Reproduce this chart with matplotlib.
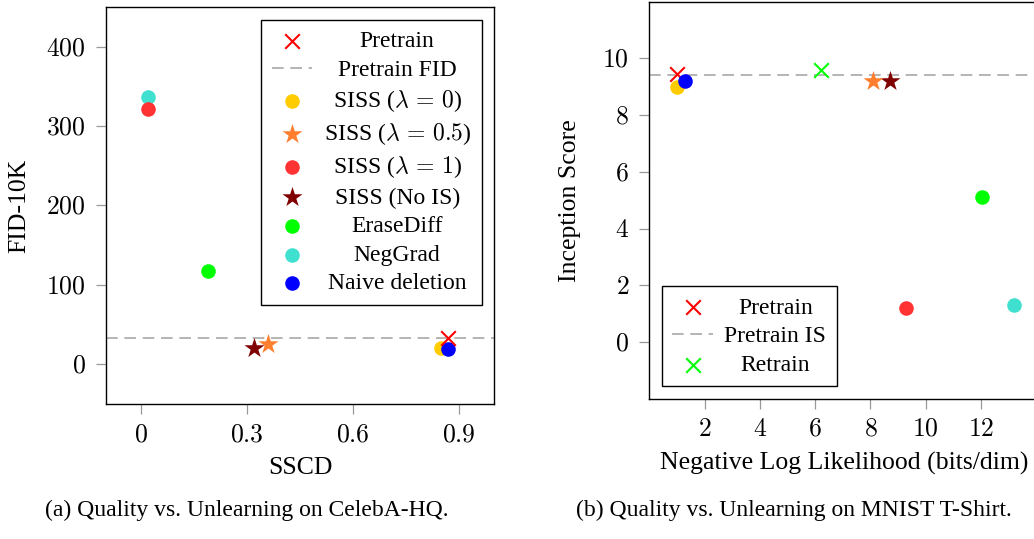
import matplotlib
matplotlib.use("Agg")
import matplotlib.pyplot as plt
from matplotlib.ticker import FuncFormatter

plt.rcParams["font.family"] = ["Liberation Serif", "DejaVu Serif"]
plt.rcParams["mathtext.fontset"] = "cm"

# (a) CelebA-HQ: SSCD vs FID-10K
CELEBA_PRETRAIN = (0.87, 32.5)
CELEBA_PRETRAIN_FID = 32.5
CELEBA_METHODS = ["SISS ($\\lambda\\,=\\,0$)", "SISS ($\\lambda\\,=\\,0.5$)",
                  "SISS ($\\lambda\\,=\\,1$)", "SISS (No IS)", "EraseDiff", "NegGrad",
                  "Naive deletion"]
CELEBA_X = [0.85, 0.36, 0.02, 0.32, 0.19, 0.02, 0.87]
CELEBA_Y = [20, 25, 322, 20, 118, 337, 19]
CELEBA_XTICKS = [0, 0.3, 0.6, 0.9]
CELEBA_YTICKS = [0, 100, 200, 300, 400]

# (b) MNIST T-Shirt: NLL vs Inception Score
MNIST_PRETRAIN = (1.0, 9.45)
MNIST_PRETRAIN_IS = 9.4
MNIST_RETRAIN = (6.2, 9.6)
MNIST_X = [1.0, 8.1, 9.3, 8.7, 12.05, 13.2, 1.3]
MNIST_Y = [9.0, 9.2, 1.2, 9.2, 5.1, 1.3, 9.2]
MNIST_XTICKS = [2, 4, 6, 8, 10, 12]
MNIST_YTICKS = [0, 2, 4, 6, 8, 10]

COLORS = ["#FFCC00", "#FF7F2F", "#FF3333", "#800000", "#00FF00", "#40E0D0", "#0000FF"]
MARKERS = ["o", "*", "o", "*", "o", "o", "o"]
ZORD = [3, 5, 4, 4, 3, 3, 4]

FS = 17        # legend / caption
FS_TICK = 18.5
FS_LABEL = 18.5

math_fmt = FuncFormatter(lambda v, p: f"${v:g}$")


def style(ax):
    for s in ax.spines.values():
        s.set_linewidth(1.0)
    ax.tick_params(labelsize=FS_TICK, color="#999999", direction="out", length=7.5,
                   width=0.9, pad=7)
    ax.xaxis.set_major_formatter(math_fmt)
    ax.yaxis.set_major_formatter(math_fmt)


def points(ax, xs, ys, with_labels=True):
    for i, (x, y) in enumerate(zip(xs, ys)):
        size = 230 if MARKERS[i] == "*" else 110
        ax.scatter(x, y, s=size, marker=MARKERS[i], color=COLORS[i], linewidths=0,
                   zorder=ZORD[i], label=CELEBA_METHODS[i] if with_labels else None)


def make_legend(ax, **kw):
    leg = ax.legend(fontsize=FS, frameon=True, fancybox=False, edgecolor="black",
                    framealpha=1, labelspacing=0.3, handlelength=1.7, handletextpad=0.5,
                    borderpad=0.45, borderaxespad=0, scatterpoints=1, **kw)
    leg.get_frame().set_linewidth(1.0)
    return leg


fig = plt.figure(figsize=(10.34, 5.39), dpi=100)

ax1 = fig.add_axes([0.1025, 0.2505, 0.3752, 0.7365])
ax1.scatter(*CELEBA_PRETRAIN, marker="x", s=110, color="#FF0000", linewidths=1.5, zorder=6,
            label="Pretrain")
ax1.axhline(CELEBA_PRETRAIN_FID, color="#A8A8A8", ls=(0, (7, 4)), lw=1.2, zorder=1,
            label="Pretrain FID")
points(ax1, CELEBA_X, CELEBA_Y)
ax1.set_xlim(-0.1, 1.0)
ax1.set_ylim(-50, 450)
ax1.set_xticks(CELEBA_XTICKS)
ax1.set_yticks(CELEBA_YTICKS)
ax1.set_xlabel("SSCD", fontsize=FS_LABEL, va="center")
ax1.set_ylabel("FID-10K", fontsize=FS_LABEL, va="center")
ax1.xaxis.set_label_coords(0.5, -0.161)
ax1.yaxis.set_label_coords(-0.224, 0.5)
style(ax1)
leg1 = make_legend(ax1, loc="upper right", bbox_to_anchor=(0.968, 0.967))

ax2 = fig.add_axes([0.628, 0.2603, 0.3769, 0.7366])
ax2.scatter(*MNIST_PRETRAIN, marker="x", s=110, color="#FF0000", linewidths=1.5, zorder=3.5,
            label="Pretrain")
ax2.axhline(MNIST_PRETRAIN_IS, color="#A8A8A8", ls=(0, (7, 4)), lw=1.2, zorder=1,
            label="Pretrain IS")
ax2.scatter(*MNIST_RETRAIN, marker="x", s=110, color="#00FF00", linewidths=1.5, zorder=6,
            label="Retrain")
points(ax2, MNIST_X, MNIST_Y, with_labels=False)
ax2.set_xlim(0, 14.1)
ax2.set_ylim(-2, 12)
ax2.set_xticks(MNIST_XTICKS)
ax2.set_yticks(MNIST_YTICKS)
ax2.set_xlabel("Negative Log Likelihood (bits/dim)", fontsize=FS_LABEL, va="center")
ax2.set_ylabel("Inception Score", fontsize=FS_LABEL, va="center")
ax2.xaxis.set_label_coords(0.5, -0.163)
ax2.yaxis.set_label_coords(-0.2035, 0.5)
style(ax2)
leg2 = make_legend(ax2, loc="lower left", bbox_to_anchor=(0.032, 0.031))

fig.text(247 / 1034, 1 - 510 / 539, "(a) Quality vs. Unlearning on CelebA-HQ.",
         ha="center", va="center", fontsize=FS)
fig.text(794 / 1034, 1 - 510 / 539, "(b) Quality vs. Unlearning on MNIST T-Shirt.",
         ha="center", va="center", fontsize=FS)

# centre legend entries in their text column, like pgfplots does
fig.canvas.draw()
renderer = fig.canvas.get_renderer()
for leg in (leg1, leg2):
    texts = leg.get_texts()
    widths = [t.get_window_extent(renderer).width for t in texts]
    widest = max(widths)
    for t, w in zip(texts, widths):
        t.set_x((widest - w) / 2)

fig.savefig("out.png", dpi=100)
